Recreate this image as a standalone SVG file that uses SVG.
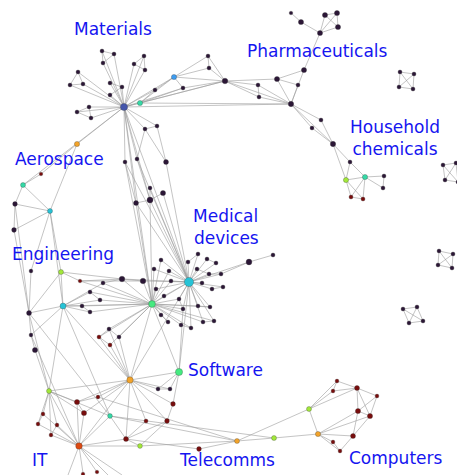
<svg xmlns="http://www.w3.org/2000/svg" width="457" height="475" viewBox="0 0 457 475">
<style>
.e{fill:none;stroke:#9c9c9c;stroke-width:.6}
circle{stroke:#3a3a3a;stroke-width:.3}
.p{fill:#2b1636}.r{fill:#780c0c}.o{fill:#f2a32a}.lg{fill:#a2e83a}.t{fill:#35d9a6}.c{fill:#26c3d6}.g{fill:#45ea80}.b{fill:#3d9cf0}.m{fill:#4456ab}.it{fill:#dd4a12}
text{font-family:"DejaVu Sans",Verdana,sans-serif;font-size:17px;fill:#1515f0}
</style>
<rect width="457" height="475" fill="#fff"/>
<g id="edges">
<path class="e" d="M124 107L102 51M124 107L114 54M124 107L103 63M124 107L144 56M124 107L134 64M124 107L145 70M124 107L78 72M124 107L70 85M124 107L83 84M124 107L110 83M124 107L122 87M124 107L110 95M124 107L77 112M124 107L89 107M124 107L91 118M124 107L145 129M124 107L157 126M124 107L140 103M124 107L155 90M124 107L174 77M124 107L225 81M124 107L77 144M124 107L23 185M124 107L125 162M124 107L137 159M124 107L150 200M124 107L136 203M124 107L189 282M124 107L152 304M124 107L291 104M124 107L183 88"/>
<path class="e" d="M102 51L114 54L103 63L102 51M144 56L134 64L145 70L144 56M78 72L70 85L83 84L78 72M110 83L122 87L110 95M77 112L89 107L91 118L77 112M145 129L157 126M145 129L137 159M157 126L166 162M145 129L166 162M140 103L155 90L174 77M140 103L174 77M140 103L225 81M140 103L183 88L225 81M174 77L208 56L209 68L225 81L208 56M174 77L209 68M174 77L225 81M183 88L174 77M140 103L291 104M77 144L41 174L23 185M77 144L50 211"/>
<path class="e" d="M125 162L136 203M125 162L189 282M125 162L152 304M137 159L150 200M137 159L189 282M150 188L150 200M163 193L150 200M136 203L150 200M136 203L152 304M136 203L189 282M150 200L152 304M150 200L189 282M163 193L189 282M166 162L189 282M150 188L189 282"/>
<path class="e" d="M225 81L277 79M225 81L258 85M225 81L259 97M225 81L291 104M258 85L259 97M258 85L291 104M259 97L291 104M277 79L304 70M277 79L298 85M277 79L291 104M304 70L291 104M298 85L291 104M304 70L320 33M320 33L301 22L291 13M320 33L325 15L337 13L338 27L325 15M320 33L338 27M320 33L337 13M291 104L321 120L333 144M291 104L312 128L333 144M291 104L333 144M333 144L350 162L365 177M333 144L346 180M350 162L346 180M346 180L365 177M346 180L351 197M346 180L363 199M365 177L351 197M365 177L363 199M351 197L363 199M365 177L384 176L383 188L365 177"/>
<path class="e" d="M400 72L414 74L413 89L399 87L400 72L413 89M414 74L399 87M439 251L453 254L452 268L438 265L439 251L452 268M453 254L438 265M403 309L417 307L423 321L409 323L403 309L423 321M417 307L409 323M443 165L456 163L458 182L445 180L443 165L458 182M456 163L445 180"/>
<path class="e" d="M23 185L15 204L14 230M23 185L50 211M15 204L50 211M14 230L50 211M15 204L29 313M14 230L29 313M50 211L31 271M50 211L61 272M50 211L63 306M31 271L29 313M61 272L80 281M61 272L63 306M61 272L29 313M61 272L122 279M80 281L122 279M80 281L143 281M80 281L152 304M63 306L29 313M63 306L103 283M63 306L90 292M63 306L100 300M63 306L82 306M63 306L90 312M63 306L152 304M63 306L130 380M63 306L49 391M63 306L31 335M63 306L110 416M103 283L122 279L143 281L189 282M122 279L189 282M90 292L100 300M82 306L90 312M29 313L31 335L35 350L49 391M29 313L49 391M29 313L110 416M31 335L79 446"/>
<path class="e" d="M152 304L161 260M152 304L154 269M152 304L169 271M152 304L171 281M152 304L156 289M152 304L164 296M152 304L122 279M152 304L143 281M152 304L103 283M152 304L90 292M152 304L100 300M152 304L82 306M152 304L90 312M152 304L179 299M152 304L183 309M152 304L161 315M152 304L168 322M152 304L181 325M152 304L191 328M152 304L203 322M152 304L214 321M152 304L198 306M152 304L210 307M152 304L109 329M152 304L119 337M152 304L99 337M152 304L110 345M152 304L130 380M152 304L179 372M152 304L189 282"/>
<path class="e" d="M189 282L198 254M189 282L188 262M189 282L207 259M189 282L216 263M189 282L197 269M189 282L209 274M189 282L221 274M189 282L202 283M189 282L212 289M189 282L223 287M189 282L171 281M189 282L169 271M189 282L161 260M189 282L154 269M189 282L179 299M189 282L198 306M189 282L210 307M189 282L183 309M189 282L191 328M189 282L203 322M189 282L214 321M189 282L164 296M189 282L156 289M189 282L249 262M189 282L179 372M189 282L130 380M221 274L249 262L273 255M198 306L210 307M203 322L214 321M181 325L191 328M161 315L168 322M179 299L183 309M212 289L223 287M197 269L209 274L221 274M207 259L216 263M198 254L188 262M109 329L119 337M99 337L110 345M109 329L99 337"/>
<path class="e" d="M130 380L109 329M130 380L119 337M130 380L99 337M130 380L110 345M130 380L179 372M130 380L158 389M130 380L170 389M130 380L173 404M130 380L167 421M130 380L146 421M130 380L126 439M130 380L77 402M130 380L98 397M130 380L84 413M130 380L49 391M130 380L79 446M179 372L170 389L158 389L179 372M179 372L173 404L167 421L126 439M179 372L183 309M167 421L140 446M146 421L126 439"/>
<path class="e" d="M49 391L77 402M49 391L84 413M49 391L43 414M49 391L38 424M49 391L57 425M49 391L51 435M49 391L79 446M49 391L110 416M77 402L98 397M77 402L79 446M84 413L79 446M77 402L84 413M43 414L38 424M57 425L51 435M43 414L79 446M38 424L79 446M57 425L79 446M51 435L79 446M110 416L79 446M110 416L126 439M110 416L237 441M110 416L274 438M79 446L126 439M79 446L140 446M79 446L97 472M79 446L83 473M79 446L68 475M79 446L108 475M79 446L122 475M126 439L199 449M126 439L140 446M140 446L237 441M199 449L237 441M98 397L237 441"/>
<path class="e" d="M237 441L274 438M237 441L309 409M274 438L318 434M309 409L318 434M309 409L337 381M309 409L333 391M309 409L357 388M337 381L357 388M333 391L357 388M337 381L333 391M357 388L377 396M357 388L358 411M357 388L370 416M377 396L370 416M377 396L358 411M358 411L370 416M318 434L358 411M318 434L370 416M318 434L353 436M318 434L333 442M318 434L340 451M353 436L358 411M353 436L370 416M353 436L340 451M333 442L340 451"/>
</g>
<g id="nodes">
<g id="n_materials_hub"><circle class="m" cx="124" cy="107" r="3.6"/></g>
<g id="n1"><circle class="p" cx="102" cy="51" r="2"/></g>
<g id="n2"><circle class="p" cx="114" cy="54" r="2"/></g>
<g id="n3"><circle class="p" cx="103" cy="63" r="2"/></g>
<g id="n4"><circle class="p" cx="144" cy="56" r="2"/></g>
<g id="n5"><circle class="p" cx="134" cy="64" r="2"/></g>
<g id="n6"><circle class="p" cx="145" cy="70" r="2"/></g>
<g id="n7"><circle class="p" cx="78" cy="72" r="2"/></g>
<g id="n8"><circle class="p" cx="70" cy="85" r="2"/></g>
<g id="n9"><circle class="p" cx="83" cy="84" r="2"/></g>
<g id="n10"><circle class="p" cx="110" cy="83" r="2"/></g>
<g id="n11"><circle class="p" cx="122" cy="87" r="2"/></g>
<g id="n12"><circle class="p" cx="110" cy="95" r="2"/></g>
<g id="n13"><circle class="p" cx="77" cy="112" r="2"/></g>
<g id="n14"><circle class="p" cx="89" cy="107" r="2"/></g>
<g id="n15"><circle class="p" cx="91" cy="118" r="2"/></g>
<g id="n16"><circle class="p" cx="145" cy="129" r="2"/></g>
<g id="n17"><circle class="p" cx="157" cy="126" r="2"/></g>
<g id="n18"><circle class="t" cx="140" cy="103" r="2.6"/></g>
<g id="n19"><circle class="p" cx="155" cy="90" r="2"/></g>
<g id="n20"><circle class="b" cx="174" cy="77" r="2.6"/></g>
<g id="n21"><circle class="p" cx="208" cy="56" r="2"/></g>
<g id="n22"><circle class="p" cx="209" cy="68" r="2"/></g>
<g id="n23"><circle class="p" cx="225" cy="81" r="2.8"/></g>
<g id="n24"><circle class="p" cx="183" cy="88" r="2"/></g>
<g id="n25"><circle class="o" cx="77" cy="144" r="2.6"/></g>
<g id="n26"><circle class="p" cx="125" cy="162" r="2"/></g>
<g id="n27"><circle class="p" cx="137" cy="159" r="2"/></g>
<g id="n28"><circle class="p" cx="166" cy="162" r="2.5"/></g>
<g id="n29"><circle class="p" cx="150" cy="188" r="2"/></g>
<g id="n30"><circle class="p" cx="163" cy="193" r="2.6"/></g>
<g id="n31"><circle class="p" cx="150" cy="200" r="3"/></g>
<g id="n32"><circle class="p" cx="136" cy="203" r="2.5"/></g>
<g id="n33"><circle class="p" cx="291" cy="13" r="1.8"/></g>
<g id="n34"><circle class="p" cx="301" cy="22" r="2.6"/></g>
<g id="n35"><circle class="p" cx="325" cy="15" r="2.6"/></g>
<g id="n36"><circle class="p" cx="337" cy="13" r="2.6"/></g>
<g id="n37"><circle class="p" cx="338" cy="27" r="2.6"/></g>
<g id="n38"><circle class="p" cx="320" cy="33" r="2.6"/></g>
<g id="n39"><circle class="p" cx="304" cy="70" r="2.6"/></g>
<g id="n40"><circle class="p" cx="277" cy="79" r="2.6"/></g>
<g id="n41"><circle class="p" cx="258" cy="85" r="2"/></g>
<g id="n42"><circle class="p" cx="259" cy="97" r="2"/></g>
<g id="n43"><circle class="p" cx="298" cy="85" r="2"/></g>
<g id="n44"><circle class="p" cx="291" cy="104" r="2.7"/></g>
<g id="n45"><circle class="p" cx="321" cy="120" r="2"/></g>
<g id="n46"><circle class="p" cx="312" cy="128" r="2"/></g>
<g id="n47"><circle class="p" cx="333" cy="144" r="2.7"/></g>
<g id="n48"><circle class="p" cx="350" cy="162" r="2"/></g>
<g id="n49"><circle class="lg" cx="346" cy="180" r="2.6"/></g>
<g id="n50"><circle class="t" cx="365" cy="177" r="2.6"/></g>
<g id="n51"><circle class="p" cx="384" cy="176" r="2"/></g>
<g id="n52"><circle class="p" cx="383" cy="188" r="2"/></g>
<g id="n53"><circle class="r" cx="351" cy="197" r="2"/></g>
<g id="n54"><circle class="r" cx="363" cy="199" r="2"/></g>
<g id="n55"><circle class="p" cx="400" cy="72" r="2"/></g>
<g id="n56"><circle class="p" cx="414" cy="74" r="2"/></g>
<g id="n57"><circle class="p" cx="399" cy="87" r="2"/></g>
<g id="n58"><circle class="p" cx="413" cy="89" r="2"/></g>
<g id="n59"><circle class="p" cx="443" cy="165" r="2"/></g>
<g id="n60"><circle class="p" cx="456" cy="163" r="2"/></g>
<g id="n61"><circle class="p" cx="445" cy="180" r="2"/></g>
<g id="n62"><circle class="p" cx="458" cy="182" r="2"/></g>
<g id="n63"><circle class="p" cx="439" cy="251" r="2"/></g>
<g id="n64"><circle class="p" cx="453" cy="254" r="2"/></g>
<g id="n65"><circle class="p" cx="438" cy="265" r="2"/></g>
<g id="n66"><circle class="p" cx="452" cy="268" r="2"/></g>
<g id="n67"><circle class="p" cx="403" cy="309" r="2"/></g>
<g id="n68"><circle class="p" cx="417" cy="307" r="2"/></g>
<g id="n69"><circle class="p" cx="409" cy="323" r="2"/></g>
<g id="n70"><circle class="p" cx="423" cy="321" r="2"/></g>
<g id="n71"><circle class="r" cx="41" cy="174" r="1.8"/></g>
<g id="n72"><circle class="t" cx="23" cy="185" r="2.5"/></g>
<g id="n73"><circle class="p" cx="15" cy="204" r="2.4"/></g>
<g id="n74"><circle class="c" cx="50" cy="211" r="2.5"/></g>
<g id="n75"><circle class="p" cx="14" cy="230" r="2.4"/></g>
<g id="n76"><circle class="p" cx="31" cy="271" r="1.9"/></g>
<g id="n77"><circle class="lg" cx="61" cy="272" r="2.5"/></g>
<g id="n78"><circle class="r" cx="80" cy="281" r="1.8"/></g>
<g id="n79"><circle class="c" cx="63" cy="306" r="3"/></g>
<g id="n80"><circle class="p" cx="103" cy="283" r="2"/></g>
<g id="n81"><circle class="p" cx="90" cy="292" r="2"/></g>
<g id="n82"><circle class="p" cx="100" cy="300" r="2"/></g>
<g id="n83"><circle class="p" cx="82" cy="306" r="2"/></g>
<g id="n84"><circle class="p" cx="90" cy="312" r="2"/></g>
<g id="n85"><circle class="p" cx="29" cy="313" r="2.5"/></g>
<g id="n86"><circle class="p" cx="31" cy="335" r="1.9"/></g>
<g id="n87"><circle class="p" cx="35" cy="350" r="2.6"/></g>
<g id="n88"><circle class="p" cx="122" cy="279" r="2.8"/></g>
<g id="n89"><circle class="p" cx="143" cy="281" r="2.8"/></g>
<g id="n90"><circle class="p" cx="161" cy="260" r="2"/></g>
<g id="n91"><circle class="p" cx="154" cy="269" r="2"/></g>
<g id="n92"><circle class="p" cx="169" cy="271" r="2"/></g>
<g id="n93"><circle class="p" cx="171" cy="281" r="2"/></g>
<g id="n94"><circle class="p" cx="156" cy="289" r="2"/></g>
<g id="n95"><circle class="p" cx="164" cy="296" r="2"/></g>
<g id="n96"><circle class="p" cx="198" cy="254" r="2"/></g>
<g id="n97"><circle class="p" cx="188" cy="262" r="2"/></g>
<g id="n98"><circle class="p" cx="207" cy="259" r="2"/></g>
<g id="n99"><circle class="p" cx="216" cy="263" r="2"/></g>
<g id="n100"><circle class="p" cx="197" cy="269" r="2"/></g>
<g id="n101"><circle class="p" cx="209" cy="274" r="2"/></g>
<g id="n102"><circle class="p" cx="221" cy="274" r="2"/></g>
<g id="n103"><circle class="p" cx="202" cy="283" r="2"/></g>
<g id="n104"><circle class="p" cx="212" cy="289" r="2"/></g>
<g id="n105"><circle class="p" cx="223" cy="287" r="2"/></g>
<g id="n106"><circle class="p" cx="179" cy="299" r="2"/></g>
<g id="n107"><circle class="p" cx="183" cy="309" r="2"/></g>
<g id="n108"><circle class="p" cx="198" cy="306" r="2"/></g>
<g id="n109"><circle class="p" cx="210" cy="307" r="2"/></g>
<g id="n110"><circle class="p" cx="161" cy="315" r="2"/></g>
<g id="n111"><circle class="p" cx="168" cy="322" r="2"/></g>
<g id="n112"><circle class="p" cx="181" cy="325" r="2"/></g>
<g id="n113"><circle class="p" cx="191" cy="328" r="2"/></g>
<g id="n114"><circle class="p" cx="203" cy="322" r="2"/></g>
<g id="n115"><circle class="p" cx="214" cy="321" r="2"/></g>
<g id="n116"><circle class="p" cx="249" cy="262" r="2.9"/></g>
<g id="n117"><circle class="p" cx="273" cy="255" r="2"/></g>
<g id="n118"><circle class="p" cx="109" cy="329" r="2"/></g>
<g id="n119"><circle class="p" cx="119" cy="337" r="2"/></g>
<g id="n120"><circle class="r" cx="99" cy="337" r="2"/></g>
<g id="n121"><circle class="r" cx="110" cy="345" r="2"/></g>
<g id="n_engineering_hub"><circle class="g" cx="152" cy="304" r="3.4"/></g>
<g id="n_medical_hub"><circle class="c" cx="189" cy="282" r="4.6"/></g>
<g id="n_software_hub"><circle class="o" cx="130" cy="380" r="3.2"/></g>
<g id="n122"><circle class="g" cx="179" cy="372" r="3.6"/></g>
<g id="n123"><circle class="p" cx="158" cy="389" r="2"/></g>
<g id="n124"><circle class="p" cx="170" cy="389" r="2"/></g>
<g id="n125"><circle class="r" cx="173" cy="404" r="2.4"/></g>
<g id="n126"><circle class="r" cx="167" cy="421" r="2.4"/></g>
<g id="n127"><circle class="r" cx="146" cy="421" r="2"/></g>
<g id="n128"><circle class="lg" cx="49" cy="391" r="2.5"/></g>
<g id="n129"><circle class="r" cx="77" cy="402" r="2.6"/></g>
<g id="n130"><circle class="r" cx="98" cy="397" r="1.9"/></g>
<g id="n131"><circle class="r" cx="84" cy="413" r="2.6"/></g>
<g id="n132"><circle class="t" cx="110" cy="416" r="2.4"/></g>
<g id="n133"><circle class="r" cx="43" cy="414" r="1.9"/></g>
<g id="n134"><circle class="r" cx="38" cy="424" r="1.9"/></g>
<g id="n135"><circle class="r" cx="57" cy="425" r="1.9"/></g>
<g id="n136"><circle class="r" cx="51" cy="435" r="1.9"/></g>
<g id="n_it_hub"><circle class="it" cx="79" cy="446" r="3.3"/></g>
<g id="n137"><circle class="r" cx="126" cy="439" r="2.5"/></g>
<g id="n138"><circle class="lg" cx="140" cy="446" r="2.4"/></g>
<g id="n139"><circle class="r" cx="199" cy="449" r="2.4"/></g>
<g id="n140"><circle class="r" cx="97" cy="472" r="1.8"/></g>
<g id="n141"><circle class="r" cx="83" cy="474" r="1.8"/></g>
<g id="n142"><circle class="o" cx="237" cy="441" r="2.5"/></g>
<g id="n143"><circle class="lg" cx="274" cy="438" r="2.5"/></g>
<g id="n144"><circle class="lg" cx="309" cy="409" r="2.5"/></g>
<g id="n145"><circle class="o" cx="318" cy="434" r="2.6"/></g>
<g id="n146"><circle class="r" cx="337" cy="381" r="1.9"/></g>
<g id="n147"><circle class="r" cx="333" cy="391" r="1.9"/></g>
<g id="n148"><circle class="r" cx="357" cy="388" r="2.5"/></g>
<g id="n149"><circle class="r" cx="377" cy="396" r="1.9"/></g>
<g id="n150"><circle class="r" cx="358" cy="411" r="2.6"/></g>
<g id="n151"><circle class="r" cx="370" cy="416" r="2.6"/></g>
<g id="n152"><circle class="r" cx="353" cy="436" r="2.5"/></g>
<g id="n153"><circle class="r" cx="333" cy="442" r="1.9"/></g>
<g id="n154"><circle class="r" cx="340" cy="451" r="1.9"/></g>
</g>
<g id="labels">
<text x="74" y="35">Materials</text>
<text x="247" y="57">Pharmaceuticals</text>
<text x="395" y="133" text-anchor="middle">Household</text>
<text x="395" y="155" text-anchor="middle">chemicals</text>
<text x="15" y="165">Aerospace</text>
<text x="193" y="222">Medical</text>
<text x="194" y="244">devices</text>
<text x="12" y="260">Engineering</text>
<text x="188" y="376">Software</text>
<text x="32" y="466">IT</text>
<text x="180" y="466">Telecomms</text>
<text x="349" y="464">Computers</text>
</g>
</svg>
